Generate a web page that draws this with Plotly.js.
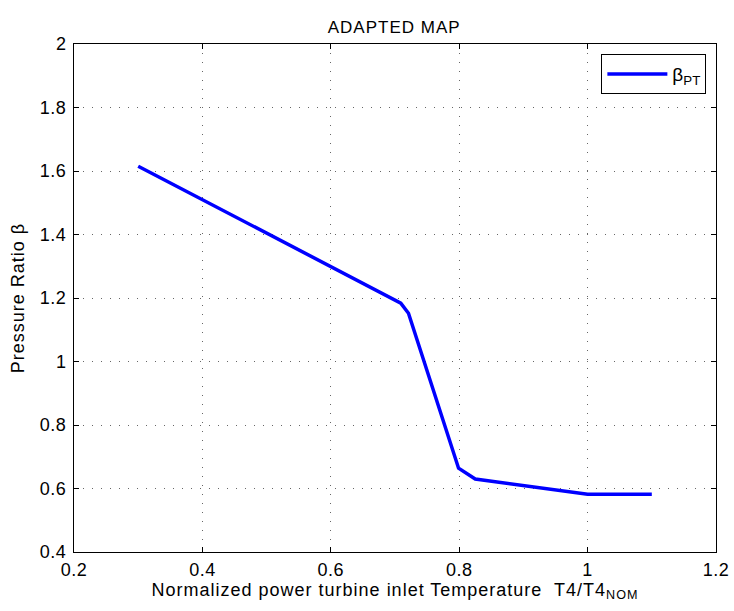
<!DOCTYPE html>
<html>
<head>
<meta charset="utf-8">
<script src="https://cdn.plot.ly/plotly-3.0.1.min.js"></script>
<style>
html,body{margin:0;padding:0;background:#fff;}
#chart{width:734px;height:611px;}
#chart .gtitle, #chart .xtitle, #chart .ytitle{letter-spacing:1px;}
#chart .xtick text, #chart .ytick text{letter-spacing:0.5px;}
</style>
</head>
<body>
<div id="chart"></div>
<script>
const temperature = [0.30, 0.709, 0.721, 0.799, 0.825, 1.00, 1.10];
const pressureRatio = [1.615, 1.184, 1.152, 0.664, 0.630, 0.582, 0.582];
const xTicks = [0.2, 0.4, 0.6, 0.8, 1.0, 1.2];
const xTickLabels = ['0.2', '0.4', '0.6', '0.8', '1', '1.2'];
const yTicks = [0.4, 0.6, 0.8, 1.0, 1.2, 1.4, 1.6, 1.8, 2.0];
const yTickLabels = ['0.4', '0.6', '0.8', '1', '1.2', '1.4', '1.6', '1.8', '2'];

const fam = 'Liberation Sans, Arial, sans-serif';
const font = {family: fam, size: 18, color: '#000'};
const axisCommon = {
  showline: true, linecolor: '#000', linewidth: 1, mirror: 'ticks',
  ticks: 'inside', ticklen: 5, tickcolor: '#000',
  showgrid: true, gridcolor: '#666', griddash: '1px,8px', gridwidth: 1,
  zeroline: false, tickfont: font
};
Plotly.newPlot('chart', [{
  x: temperature, y: pressureRatio, type: 'scatter', mode: 'lines',
  name: 'β<sub>PT</sub>', line: {color: '#0000ff', width: 3.5}
}], {
  width: 734, height: 611,
  margin: {l: 74, r: 18, t: 44, b: 59},
  paper_bgcolor: '#fff', plot_bgcolor: '#fff',
  font: font,
  title: {text: 'ADAPTED MAP', font: {family: fam, size: 17, color: '#000'}, x: 0.537, xanchor: 'center', y: 0.955, yanchor: 'middle'},
  xaxis: Object.assign({}, axisCommon, {
    range: [0.2, 1.2], tickvals: xTicks, ticktext: xTickLabels, ticklabelstandoff: 1,
    title: {text: 'Normalized power turbine inlet Temperature  T4/T4<sub>NOM</sub>', font: font, standoff: 0}
  }),
  yaxis: Object.assign({}, axisCommon, {
    range: [0.4, 2.0], tickvals: yTicks, ticktext: yTickLabels, ticklabelstandoff: 3,
    title: {text: 'Pressure Ratio β', font: font, standoff: 12}
  }),
  showlegend: true,
  legend: {x: 0.985, y: 0.98, xanchor: 'right', yanchor: 'top', bordercolor: '#000', borderwidth: 1, bgcolor: '#fff', font: {family: fam, size: 19}, itemwidth: 60}
}, {displayModeBar: false});
</script>
</body>
</html>
